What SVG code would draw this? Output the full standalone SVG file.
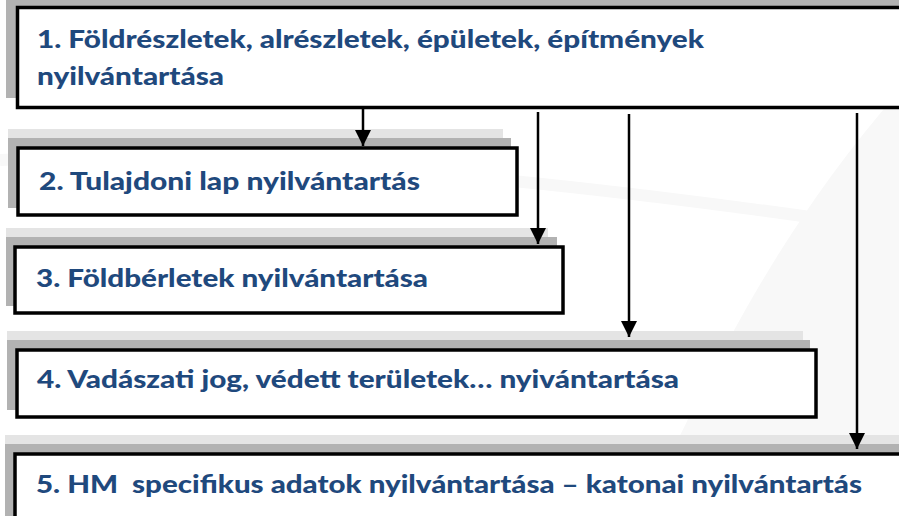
<svg xmlns="http://www.w3.org/2000/svg" width="899" height="516" viewBox="0 0 899 516">
<defs>
<style>
.box{fill:#ffffff;stroke:#000000;stroke-width:3.5}
.sh{fill:#b2b2b2}
.shl{fill:#e4e4e4}
.t{font-family:Lato,"Open Sans","Liberation Sans",sans-serif;font-weight:900;font-size:25px;fill:#1F497D}
.c{stroke:#000000;stroke-width:2.5;fill:none}
</style>
<marker id="ah" markerUnits="userSpaceOnUse" markerWidth="18" markerHeight="16" refX="16" refY="8" orient="auto">
<path d="M0,0 L16,8 L0,16 Z" fill="#000000"/>
</marker>
</defs>
<rect width="899" height="516" fill="#ffffff"/>
<path d="M640,516 C700,400 760,250 900,90 L899,516 Z" fill="#f8f8f8"/>
<path d="M0,160 C200,150 500,170 899,230" stroke="#f8f8f8" stroke-width="12" fill="none"/>

<g id="node1">
<rect class="sh" x="6" y="0" width="900" height="98"/>
<rect class="box" x="17.5" y="7.5" width="890" height="100"/>
<text class="t" x="37" y="48" textLength="667" lengthAdjust="spacingAndGlyphs">1. Földrészletek, alrészletek, épületek, építmények</text>
<text class="t" x="37" y="85" textLength="187" lengthAdjust="spacingAndGlyphs">nyilvántartása</text>
</g>

<g id="node2">
<rect class="shl" x="8" y="129" width="495" height="10"/>
<rect class="sh" x="8" y="138" width="503" height="70"/>
<rect class="box" x="18" y="148" width="499" height="67"/>
<text class="t" x="39" y="190" textLength="381" lengthAdjust="spacingAndGlyphs">2. Tulajdoni lap nyilvántartás</text>
</g>

<g id="node3">
<rect class="shl" x="6" y="228" width="542" height="10"/>
<rect class="sh" x="6" y="237" width="551" height="69"/>
<rect class="box" x="15" y="247" width="548" height="66"/>
<text class="t" x="36" y="287" textLength="392" lengthAdjust="spacingAndGlyphs">3. Földbérletek nyilvántartása</text>
</g>

<g id="node4">
<rect class="shl" x="7" y="331" width="796" height="10"/>
<rect class="sh" x="7" y="340" width="803" height="70"/>
<rect class="box" x="17" y="350" width="799" height="67"/>
<text class="t" x="37" y="388" textLength="642" lengthAdjust="spacingAndGlyphs">4. Vadászati jog, védett területek… nyivántartása</text>
</g>

<g id="node5">
<rect class="shl" x="5" y="435" width="900" height="10"/>
<rect class="sh" x="5" y="444" width="900" height="80"/>
<rect class="box" x="15" y="454" width="900" height="80"/>
<text class="t" x="36" y="493" textLength="826" lengthAdjust="spacingAndGlyphs" xml:space="preserve">5. HM  specifikus adatok nyilvántartása – katonai nyilvántartás</text>
</g>

<g id="connectors">
<line class="c" x1="363" y1="109" x2="363" y2="146" marker-end="url(#ah)"/>
<line class="c" x1="538" y1="112" x2="538" y2="244" marker-end="url(#ah)"/>
<line class="c" x1="629" y1="114" x2="629" y2="337" marker-end="url(#ah)"/>
<line class="c" x1="857" y1="113" x2="857" y2="449" marker-end="url(#ah)"/>
</g>
</svg>
